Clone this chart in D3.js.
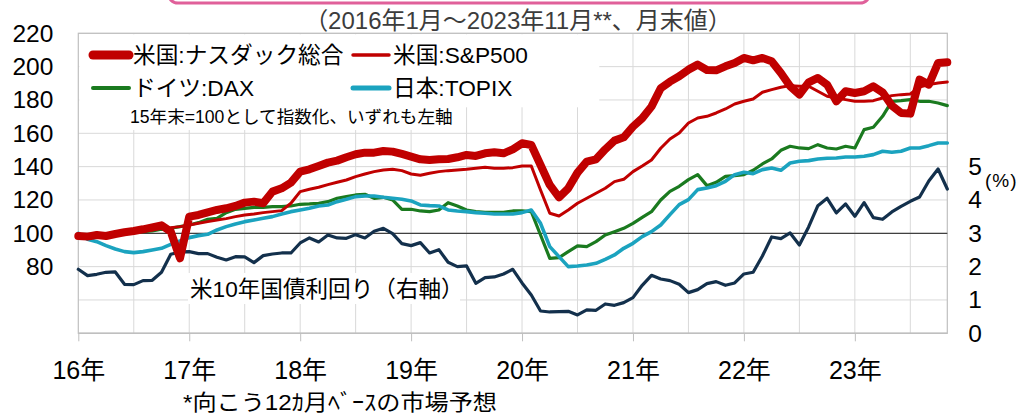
<!DOCTYPE html>
<html>
<head>
<meta charset="utf-8">
<script src="https://cdn.jsdelivr.net/npm/d3@7"></script>
<style>
  html, body { margin: 0; padding: 0; background: #fff; }
  svg { display: block; font-family: "Liberation Sans", Arial, "Noto Sans CJK JP", sans-serif; }
  .jp { font-family: "Liberation Sans", "Noto Sans CJK JP", sans-serif; }
  .grid line { stroke: #d9d9d9; stroke-width: 1; }
  .series { fill: none; stroke-linejoin: round; stroke-linecap: round; }
</style>
</head>
<body>
<svg id="chart" width="1027" height="414"></svg>
<script>
/* Forward EPS indices (15年末=100) for four markets plus the US 10y yield,
 * monthly from Jan 2016 to Nov 2023 (95 points). */

const yearLabels = ["16年", "17年", "18年", "19年", "20年", "21年", "22年", "23年"];

const nasdaq = [
  98.4, 98, 99, 98.4, 99.6, 100.6, 101.4, 102.4, 103.6, 104.8, 101, 85,
  110, 111, 112.6, 114, 115, 116.4, 118.4, 119, 118, 125, 127, 130.4,
  137, 138.4, 140.4, 142.4, 143.6, 145.6, 147.4, 148.4, 148.4, 149.4, 149, 147.6,
  146, 144.4, 144, 144.4, 144.6, 145.6, 147, 146.4, 148, 148.6, 148, 150.4,
  154, 153, 141, 129, 121.6, 127, 136.4, 143, 144.4, 150.4, 155.6, 157.6,
  164, 169, 176, 187, 191, 194.2, 198.2, 201.2, 198, 197.8, 200.2, 202.2,
  205.2, 203.8, 205.2, 203.2, 196.2, 188.2, 183.2, 190.6, 193.2, 189.2, 179.2, 185.2,
  184.2, 185.2, 188.2, 184.6, 176.6, 172.2, 171.8, 192.2, 189.2, 202.2, 202.6
];

const sp500 = [
  98, 98, 98.4, 99, 99.4, 100, 100.6, 101.4, 102, 103, 103.4, 104,
  105, 106, 107, 108, 108.8, 110, 111, 111.6, 112.4, 113, 113.6, 118,
  125, 126.4, 127.6, 129.2, 130.6, 132, 134, 135.6, 137, 138, 138.4, 137.6,
  135.6, 134.8, 136, 137, 137.6, 138, 138.4, 139, 139.6, 139, 139, 139.4,
  140.4, 140.4, 126, 112, 110.4, 114, 118, 121, 124, 127, 131, 132.4,
  137, 140.4, 144, 151, 156.6, 160.2, 166.2, 169.2, 170.2, 172.2, 174.6, 177.6,
  179.2, 180.6, 184.6, 186.2, 187.6, 188.6, 188.2, 188.2, 185.2, 182.2, 181.2, 180.2,
  179.2, 179.2, 179.6, 181.2, 182.6, 183.2, 183.6, 187.8, 189.2, 190.2, 190.8
];

const dax = [
  99.6, 98, 98, 99, 100, 100.4, 100.8, 101, 101.4, 102.4, 103, 104,
  105, 106.4, 108.4, 109, 112.4, 114.4, 115, 115.6, 115.6, 116, 116, 116.4,
  117.4, 117.6, 118, 119, 121, 122, 123, 123.4, 121, 121.6, 120, 114.4,
  114.4, 113.4, 113, 114, 118.4, 116.4, 114, 113, 112.6, 112.6, 112.6, 113.4,
  113.4, 113, 99, 85, 85.4, 89, 92.4, 92, 95, 99, 101, 103,
  106, 109.6, 113, 120, 125.2, 128.2, 132.2, 135.2, 128.6, 130.6, 134.2, 134.6,
  135.2, 137.8, 141.6, 144.6, 149.8, 152.2, 151.2, 150.8, 153.2, 151.2, 150.6, 152.2,
  151.2, 162.2, 163.6, 170.2, 179.2, 179.6, 180.2, 179.2, 179.2, 178.2, 176.6
];

const topix = [
  100, 96.4, 95, 92.6, 90.6, 89, 88.4, 89, 90, 91, 93.4, 95.4,
  97.4, 98.6, 99.4, 102, 104, 105.6, 107, 108, 109, 110, 111.6, 113,
  114, 115, 116.4, 117, 119, 120.4, 122, 122.4, 122.4, 121.6, 121, 120.4,
  119.4, 117, 116.6, 116.4, 114, 113.4, 113, 112.4, 112, 111.6, 111.6, 111.6,
  112.4, 114, 106, 92, 86, 80, 80.4, 81, 82, 84.4, 87, 91,
  94, 98, 101, 105, 111.2, 117.2, 120.2, 126.2, 127.2, 128.6, 131.2, 135.2,
  136.6, 135.8, 138.2, 139.2, 137.8, 142.2, 143.2, 143.6, 144.6, 145, 145.2, 145.8,
  145.8, 146.2, 147.2, 149.2, 148.6, 149.2, 151.2, 151.2, 152.6, 154.2, 154.2
];

// US 10y treasury yield, %, right axis
const us10y = [
  1.92, 1.73, 1.77, 1.83, 1.84, 1.47, 1.46, 1.58, 1.59, 1.83, 2.37, 2.44,
  2.45, 2.39, 2.39, 2.28, 2.20, 2.30, 2.29, 2.12, 2.33, 2.38, 2.41, 2.41,
  2.71, 2.86, 2.74, 2.95, 2.86, 2.85, 2.96, 2.86, 3.06, 3.15, 2.99, 2.69,
  2.63, 2.72, 2.41, 2.51, 2.13, 2.00, 2.02, 1.50, 1.67, 1.69, 1.78, 1.92,
  1.51, 1.15, 0.67, 0.64, 0.65, 0.66, 0.55, 0.70, 0.69, 0.88, 0.84, 0.92,
  1.07, 1.44, 1.74, 1.63, 1.58, 1.47, 1.22, 1.31, 1.49, 1.55, 1.44, 1.51,
  1.78, 1.83, 2.32, 2.89, 2.84, 3.01, 2.65, 3.19, 3.83, 4.05, 3.61, 3.88,
  3.51, 3.92, 3.47, 3.42, 3.64, 3.81, 3.96, 4.09, 4.57, 4.93, 4.33
];

const leftTicks = [80, 100, 120, 140, 160, 180, 200, 220];
const rightTicks = [0, 1, 2, 3, 4, 5];

const RED = "#c00000", GREEN = "#1a7a1f", CYAN = "#1ba3bf", NAVY = "#13304c";

const svg = d3.select("#chart");
const L = 78.3, R = 947.3, T = 33.3, B = 333.3;

const x = d3.scaleLinear().domain([0, nasdaq.length - 1]).range([L, R]);
const yL = d3.scaleLinear().domain([40, 220]).range([B, T]);
const yR = d3.scaleLinear().domain([0, 9]).range([B, T]);

// --- header box remnant + subtitle
svg.append("rect")
  .attr("x", 168).attr("y", -30).attr("width", 702).attr("height", 33)
  .attr("rx", 10).attr("fill", "#fff").attr("stroke", "#e0609a").attr("stroke-width", 3);

svg.append("text").attr("class", "jp")
  .attr("x", 518).attr("y", 29).attr("text-anchor", "middle")
  .attr("font-size", 24).attr("fill", "#3c3c3c")
  .text("（2016年1月～2023年11月**、月末値）");

// --- gridlines
const grid = svg.append("g").attr("class", "grid");
grid.selectAll("line.h").data(d3.range(60, 221, 20)).join("line")
  .attr("x1", L).attr("x2", R).attr("y1", d => yL(d)).attr("y2", d => yL(d));
grid.selectAll("line.v").data(d3.range(6, nasdaq.length - 1, 6)).join("line")
  .attr("y1", T).attr("y2", B).attr("x1", d => x(d)).attr("x2", d => x(d));

svg.append("rect")
  .attr("x", L).attr("y", T).attr("width", R - L).attr("height", B - T)
  .attr("fill", "none").attr("stroke", "#bfbfbf").attr("stroke-width", 1.2);

// white boxes behind legend and annotation
svg.append("rect").attr("x", L + 1).attr("y", T + 1).attr("width", 520).attr("height", 73).attr("fill", "#fff");
svg.append("rect").attr("x", L + 1).attr("y", 107).attr("width", 382).attr("height", 23).attr("fill", "#fff");
svg.append("rect").attr("x", 188).attr("y", 273).attr("width", 272).attr("height", 31).attr("fill", "#fff");

// --- axes
const axL = svg.append("g").attr("transform", `translate(${L},0)`)
  .call(d3.axisLeft(yL).tickValues(leftTicks).tickSize(0).tickPadding(25));
const axR = svg.append("g").attr("transform", `translate(${R},0)`)
  .call(d3.axisRight(yR).tickValues(rightTicks).tickSize(0).tickPadding(21));
const axB = svg.append("g").attr("transform", `translate(0,${B})`)
  .call(d3.axisBottom(x).tickValues(d3.range(0, 85, 12)).tickSize(8).tickPadding(20)
    .tickFormat((d, i) => yearLabels[i]));

[axL, axR, axB].forEach(g => {
  g.select(".domain").remove();
  g.selectAll("text").attr("font-family", '"Liberation Sans", "Noto Sans CJK JP", sans-serif')
    .attr("fill", "#000").attr("font-size", 24.5);
});
axB.selectAll("text").attr("font-size", 25);
axB.selectAll(".tick line").attr("stroke", "#bfbfbf");
svg.append("line").attr("x1", L).attr("x2", R).attr("y1", B).attr("y2", B)
  .attr("stroke", "#bfbfbf").attr("stroke-width", 1.5);

svg.append("text").attr("class", "jp")
  .attr("x", 985).attr("y", 187).attr("font-size", 19).attr("letter-spacing", 1).text("(%)");

// 100 reference line
svg.append("line").attr("x1", L).attr("x2", R).attr("y1", yL(100)).attr("y2", yL(100))
  .attr("stroke", "#404040").attr("stroke-width", 1.3);

// --- series
const lineL = d3.line().x((d, i) => x(i)).y(d => yL(d));
const lineR = d3.line().x((d, i) => x(i)).y(d => yR(d));

svg.append("path").datum(us10y).attr("class", "series").attr("d", lineR)
  .attr("stroke", NAVY).attr("stroke-width", 3.2);
svg.append("path").datum(dax).attr("class", "series").attr("d", lineL)
  .attr("stroke", GREEN).attr("stroke-width", 3.2);
svg.append("path").datum(topix).attr("class", "series").attr("d", lineL)
  .attr("stroke", CYAN).attr("stroke-width", 3.6);
svg.append("path").datum(sp500).attr("class", "series").attr("d", lineL)
  .attr("stroke", RED).attr("stroke-width", 3);
svg.append("path").datum(nasdaq).attr("class", "series").attr("d", lineL)
  .attr("stroke", RED).attr("stroke-width", 8);

// --- legend
const legend = [
  { name: "米国:ナスダック総合", color: RED, w: 9, x: 93, y: 55 },
  { name: "米国:S&P500", color: RED, w: 3.5, x: 353, y: 55 },
  { name: "ドイツ:DAX", color: GREEN, w: 4, x: 93, y: 88 },
  { name: "日本:TOPIX", color: CYAN, w: 5, x: 353, y: 88 },
];
const lg = svg.append("g").selectAll("g").data(legend).join("g");
lg.append("line")
  .attr("x1", d => d.x).attr("x2", d => d.x + 36).attr("y1", d => d.y).attr("y2", d => d.y)
  .attr("stroke", d => d.color).attr("stroke-width", d => d.w).attr("stroke-linecap", "round");
lg.append("text").attr("class", "jp")
  .attr("x", d => d.x + 40).attr("y", d => d.y + 8).attr("font-size", 22.7)
  .text(d => d.name);

svg.append("text").attr("class", "jp")
  .attr("x", 130).attr("y", 123).attr("font-size", 17.6)
  .text("15年末=100として指数化、いずれも左軸");

svg.append("text").attr("class", "jp")
  .attr("x", 190).attr("y", 297).attr("font-size", 22.6)
  .text("米10年国債利回り（右軸）");

svg.append("text").attr("class", "jp")
  .attr("x", 183).attr("y", 410).attr("font-size", 22)
  .attr("textLength", 314).attr("lengthAdjust", "spacingAndGlyphs")
  .text("*向こう12ｶ月ﾍﾞｰｽの市場予想");
</script>
</body>
</html>
